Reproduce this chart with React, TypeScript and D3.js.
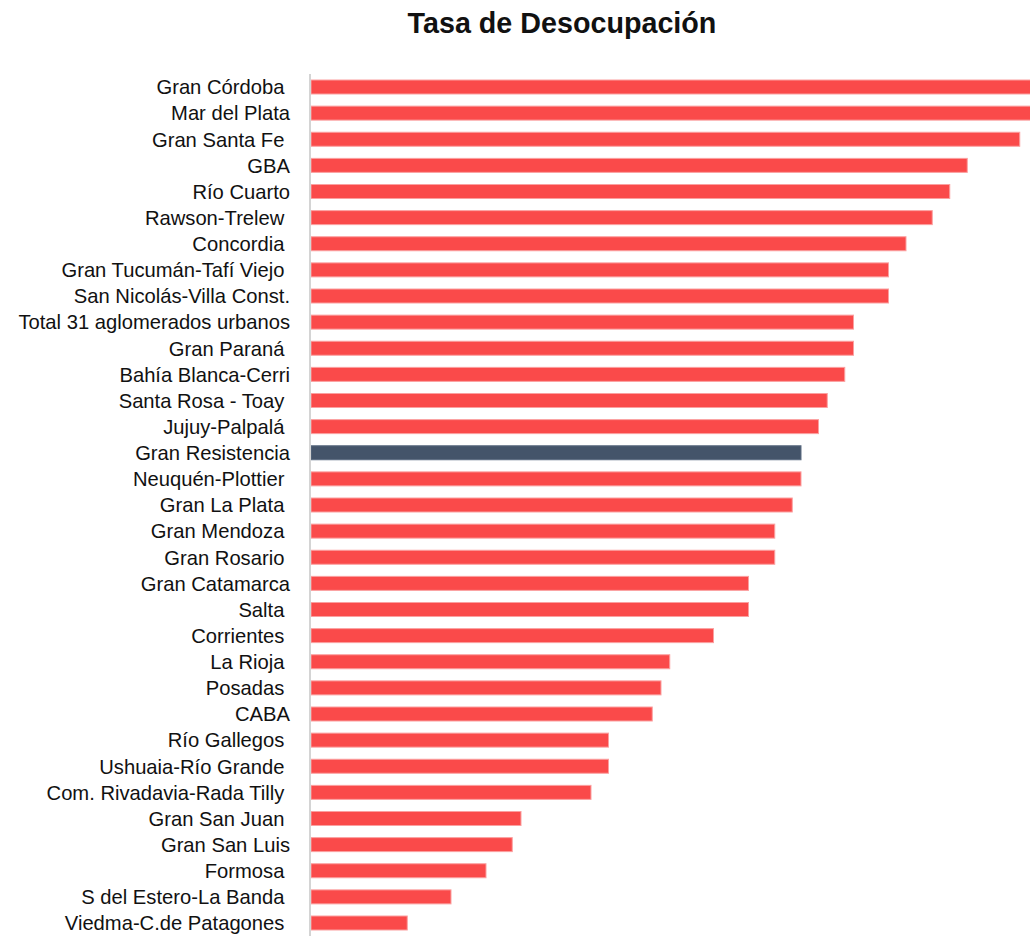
import React from "react";
import * as d3 from "d3";

const categories: string[] = [
  "Gran Córdoba ",
  "Mar del Plata",
  "Gran Santa Fe ",
  "GBA",
  "Río Cuarto",
  "Rawson-Trelew ",
  "Concordia ",
  "Gran Tucumán-Tafí Viejo ",
  "San Nicolás-Villa Const.",
  "Total 31 aglomerados urbanos",
  "Gran Paraná ",
  "Bahía Blanca-Cerri",
  "Santa Rosa - Toay ",
  "Jujuy-Palpalá ",
  "Gran Resistencia",
  "Neuquén-Plottier ",
  "Gran La Plata ",
  "Gran Mendoza ",
  "Gran Rosario ",
  "Gran Catamarca",
  "Salta ",
  "Corrientes ",
  "La Rioja ",
  "Posadas ",
  "CABA",
  "Río Gallegos ",
  "Ushuaia-Río Grande ",
  "Com. Rivadavia-Rada Tilly ",
  "Gran San Juan ",
  "Gran San Luis",
  "Formosa ",
  "S del Estero-La Banda ",
  "Viedma-C.de Patagones ",
];

const values: number[] = [
  8.8, 8.4, 8.1, 7.5, 7.3, 7.1, 6.8, 6.6, 6.6, 6.2, 6.2, 6.1, 5.9, 5.8, 5.6, 5.6,
  5.5, 5.3, 5.3, 5.0, 5.0, 4.6, 4.1, 4.0, 3.9, 3.4, 3.4, 3.2, 2.4, 2.3, 2.0, 1.6, 1.1,
];

const highlight: string[] = ["Gran Resistencia"];

const title = "Tasa de Desocupación";

const W = 1030;
const H = 936;

export default function App() {
  const x = d3.scaleLinear().domain([0, 10]).range([311, 311 + 875]);
  const y = d3.scalePoint<string>().domain(categories).range([87, 923]);
  const barH = 14;
  const font = "'Liberation Sans', Arial, sans-serif";

  return (
    <div style={{ position: "absolute", left: 0, top: 0, width: W, height: H, overflow: "hidden", background: "#fff" }}>
      <svg width={W} height={H} style={{ display: "block" }}>
        <text
          x={562}
          y={33}
          textAnchor="middle"
          fontFamily={font}
          fontWeight="bold"
          fontSize={28.7}
          fill="#111"
        >
          {title}
        </text>
        {categories.map((c, i) => {
          const hl = highlight.includes(c.trim());
          return (
            <g key={c}>
              <rect
                x={x(0)}
                y={(y(c) as number) - barH / 2}
                width={Math.max(0, x(values[i]) - x(0))}
                height={barH}
                fill={hl ? "#44546A" : "#FA4A4A"}
                stroke={hl ? "#5d6d82" : "#FBA0A0"}
                strokeWidth={1}
              />
              <text
                x={290}
                y={y(c) as number}
                dy="0.36em"
                textAnchor="end"
                fontFamily={font}
                fontSize={20.2}
                fill="#111"
                style={{ whiteSpace: "pre" }}
              >
                {c}
              </text>
            </g>
          );
        })}
        <line x1={310} x2={310} y1={74} y2={H} stroke="#d4d4d4" strokeWidth={2} />
      </svg>
    </div>
  );
}
